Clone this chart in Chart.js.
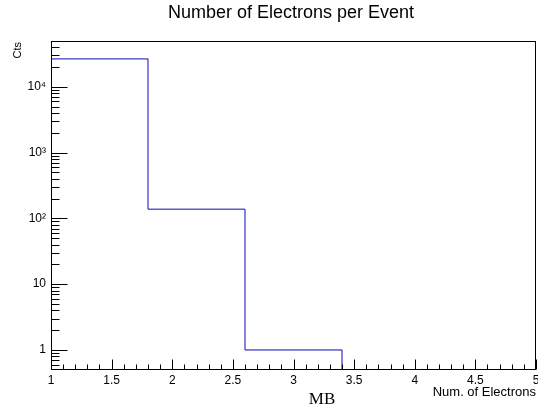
<!DOCTYPE html>
<html>
<head>
<meta charset="utf-8">
<script src="https://cdn.jsdelivr.net/npm/chart.js@4/dist/chart.umd.min.js"></script>
<style>
  html, body { margin: 0; padding: 0; background: #fff; }
  #wrap { width: 538px; height: 413px; position: relative; }
</style>
</head>
<body>
<div id="wrap"><canvas id="histo"></canvas></div>
<script>
// histogram data
const binEdges = [1, 1.8, 2.6, 3.4, 4.2, 5.0];
const binCounts = [26500, 138, 1, 0, 0];
const yTickValues = [1, 10, 100, 1000, 10000];
const yTickLabels = ["1", "10", "10\u00B2", "10\u00B3", "10\u2074"];

const Y_MIN = 0.514;
const Y_MAX = 49600;

// step points: left edge of each bin, then the last edge
// empty bins go below the frame so they get clipped
const stepPoints = binCounts.map((c, i) => ({ x: binEdges[i], y: c > 0 ? c : Y_MIN / 10 }));
stepPoints.push({ x: binEdges[binEdges.length - 1], y: Y_MIN / 10 });

Chart.defaults.font.family = "'Liberation Sans', Arial, Helvetica, sans-serif";
Chart.defaults.color = "#000";

// ROOT style frame, inward ticks and axis titles
const rootFrame = {
  id: "rootFrame",
  afterDatasetsDraw(chart) {
    const ctx = chart.ctx;
    const a = chart.chartArea;
    const xs = chart.scales.x;
    const ys = chart.scales.y;
    ctx.save();
    ctx.strokeStyle = "#000";
    ctx.lineWidth = 1;
    ctx.strokeRect(Math.round(a.left) + 0.5, Math.round(a.top) + 0.5,
      Math.round(a.right - a.left) - 1, Math.round(a.bottom - a.top));

    const bottom = Math.round(a.bottom) + 0.5;
    const left = Math.round(a.left) + 0.5;
    ctx.beginPath();
    // x ticks, minor every 0.1, major every 0.5
    for (let i = 0; i <= 40; i++) {
      const v = 1 + i * 0.1;
      const px = Math.round(xs.getPixelForValue(v)) + 0.5;
      const len = i % 5 === 0 ? 10 : 5;
      ctx.moveTo(px, bottom);
      ctx.lineTo(px, bottom - len);
    }
    // y ticks, decades long and 2..9 short
    for (let d = -1; d <= 4; d++) {
      for (let k = 1; k <= 9; k++) {
        const v = k * Math.pow(10, d);
        if (v < Y_MIN || v > Y_MAX) continue;
        const py = Math.round(ys.getPixelForValue(v)) + 0.5;
        const len = k === 1 ? 16 : 8;
        ctx.moveTo(left, py);
        ctx.lineTo(left + len, py);
      }
    }
    ctx.stroke();

    // titles
    ctx.fillStyle = "#000";
    ctx.font = "18px 'Liberation Sans', Arial, sans-serif";
    ctx.textAlign = "center";
    ctx.textBaseline = "alphabetic";
    ctx.fillText("Number of Electrons per Event", 291, 18);

    ctx.font = "13px 'Liberation Sans', Arial, sans-serif";
    ctx.textAlign = "right";
    ctx.fillText("Num. of Electrons", a.right, 396);

    ctx.font = "17px 'Liberation Serif', 'Times New Roman', serif";
    ctx.textAlign = "center";
    ctx.fillText("MB", 322, 404);

    ctx.save();
    ctx.translate(21, 42);
    ctx.rotate(-Math.PI / 2);
    ctx.font = "11px 'Liberation Sans', Arial, sans-serif";
    ctx.textAlign = "right";
    ctx.fillText("Cts", 0, 0);
    ctx.restore();

    ctx.restore();
  }
};

new Chart(document.getElementById("histo"), {
  type: "line",
  data: {
    datasets: [{
      label: "Electrons",
      data: stepPoints,
      stepped: "before",
      borderColor: "#0a0ab8",
      borderWidth: 1,
      pointRadius: 0,
      fill: false,
    }]
  },
  options: {
    responsive: true,
    maintainAspectRatio: false,
    animation: false,
    layout: { padding: { top: 41, right: 2, left: 0, bottom: 0 } },
    plugins: {
      legend: { display: false },
      title: { display: false },
      tooltip: { enabled: false },
    },
    scales: {
      x: {
        type: "linear",
        min: 1,
        max: 5,
        grid: { display: false, drawTicks: false },
        border: { display: false },
        ticks: {
          stepSize: 0.5,
          maxRotation: 0,
          autoSkip: false,
          padding: 4,
          font: { size: 12 },
          callback: (v) => String(v),
        },
        afterFit: (scale) => {
          scale.height = 44;
          scale.paddingLeft = 0;
          scale.paddingRight = 0;
        },
      },
      y: {
        type: "logarithmic",
        min: Y_MIN,
        max: Y_MAX,
        grid: { display: false, drawTicks: false },
        border: { display: false },
        ticks: {
          padding: 5,
          font: { size: 12 },
          callback: (v) => {
            const i = yTickValues.indexOf(v);
            return i >= 0 ? yTickLabels[i] : "";
          },
        },
        afterBuildTicks: (scale) => {
          scale.ticks = yTickValues.map((v) => ({ value: v }));
        },
        afterFit: (scale) => {
          scale.width = 51;
          scale.paddingTop = 0;
          scale.paddingBottom = 0;
        },
      },
    },
  },
  plugins: [rootFrame],
});
</script>
</body>
</html>
